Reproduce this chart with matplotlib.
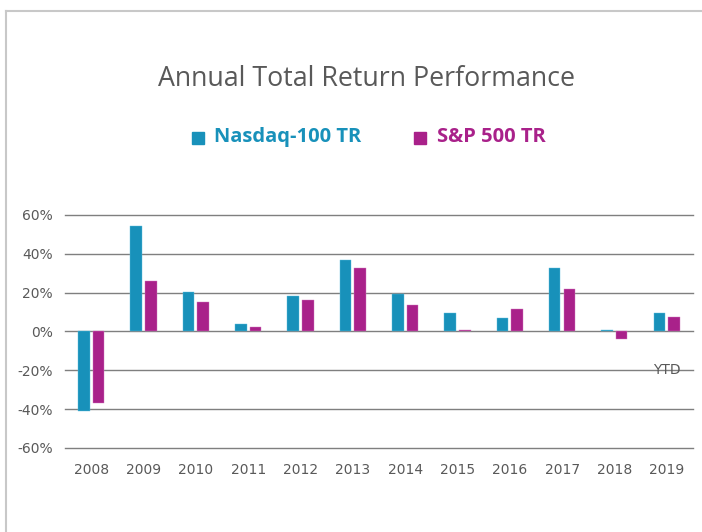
import numpy as np
import matplotlib
matplotlib.use("Agg")
import matplotlib.pyplot as plt
from matplotlib.lines import Line2D
from matplotlib.ticker import FuncFormatter

years = ['2008', '2009', '2010', '2011', '2012', '2013', '2014',
         '2015', '2016', '2017', '2018', '2019']
nasdaq = [-41.0, 54.4, 20.3, 3.6, 18.5, 36.8, 19.3, 9.4, 7.0, 32.6, 1.0, 9.4]
sp500 = [-36.9, 26.2, 15.2, 2.1, 16.1, 32.6, 13.5, 1.0, 11.8, 21.9, -3.8, 7.7]

blue = '#1891ba'
pink = '#a9218a'
grey = '#595959'

fig = plt.figure(figsize=(7.02, 5.32), dpi=100)
ax = fig.add_axes([0.0926, 0.1579, 0.8944, 0.438])

X = np.arange(len(years))
w = 0.22
ax.bar(X - 0.14, nasdaq, width=w, color=blue, edgecolor='#5fc0e0', linewidth=0.3, zorder=3)
ax.bar(X + 0.14, sp500, width=w, color=pink, edgecolor='#d27cbf', linewidth=0.3, zorder=3)

ax.set_xlim(-0.5, len(years) - 0.5)
ax.set_ylim(-60, 60)
ax.set_yticks(np.arange(-60, 61, 20))
ax.yaxis.set_major_formatter(FuncFormatter(lambda v, p: f'{v:.0f}%'))
ax.set_xticks(X)
ax.set_xticklabels(years)
ax.tick_params(axis='both', length=0, labelsize=10, colors=grey)
ax.tick_params(axis='x', pad=11)
ax.tick_params(axis='y', pad=9)
ax.grid(axis='y', color='#7f7f7f', linewidth=1.0, zorder=1)
for gl in ax.get_ygridlines():
    gl.set_clip_on(False)
for s in ax.spines.values():
    s.set_visible(False)

ax.text(11, -20, 'YTD', ha='center', va='center', fontsize=10, color=grey, zorder=4)

# title and legend
fig.text(0.522, 0.852, 'Annual Total Return Performance', ha='center', va='center',
         fontsize=19.3, color=grey, family='Open Sans')
fig.patches.append(plt.Rectangle((0.2735, 0.7293), 0.0171, 0.0226, transform=fig.transFigure,
                                 color=blue))
fig.text(0.305, 0.742, 'Nasdaq-100 TR', ha='left', va='center', fontsize=14.5,
         color=blue, fontweight='bold', family='Open Sans')
fig.patches.append(plt.Rectangle((0.5897, 0.7293), 0.0171, 0.0226, transform=fig.transFigure,
                                 color=pink))
fig.text(0.6225, 0.742, 'S&P 500 TR', ha='left', va='center', fontsize=14.5,
         color=pink, fontweight='bold', family='Open Sans')

# outer frame
fig.add_artist(Line2D([0.009, 1.0], [0.980, 0.980], color='#c8c8c8', linewidth=1.5))
fig.add_artist(Line2D([0.009, 0.009], [0.0, 0.980], color='#c8c8c8', linewidth=1.5))

fig.savefig('out.png', dpi=100)
